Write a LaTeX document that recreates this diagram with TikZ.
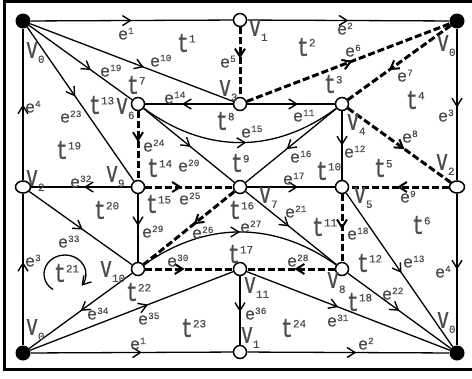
\documentclass[tikz,border=0pt]{standalone}
\usepackage{graphicx}
\usepackage{fontspec}
\setmainfont{Liberation Mono}
\newfontfamily\labfont[FakeBold=0.6]{Liberation Mono}
\usetikzlibrary{arrows.meta,decorations.markings,shapes.geometric}
\definecolor{labc}{gray}{0.3}
\newcommand\Le[1]{{\labfont\fontsize{17}{17}\selectfont e\rlap{\smash{\raisebox{5.5bp}{\fontsize{9.5}{9.5}\selectfont #1}}}}}
\newcommand\Lt[1]{{\labfont\fontsize{20}{20}\selectfont\scalebox{1}[1.35]{t}\rlap{\smash{\raisebox{9.5bp}{\fontsize{11}{11}\selectfont #1}}}}}
\newcommand\Lv[1]{{\labfont\fontsize{20}{20}\selectfont\scalebox{1}[1.5]{v}\rlap{\smash{\raisebox{-5bp}{\fontsize{11}{11}\selectfont #1}}}}}
\begin{document}
\begin{tikzpicture}[x=1bp,y=-1bp,
  vopen/.style={circle, draw, fill=white, line width=1.5bp, minimum size=13bp, inner sep=0pt},
  vdiam/.style={ellipse, draw, fill=white, line width=1.5bp, minimum width=15bp, minimum height=12bp, inner sep=0pt},
  vfull/.style={circle, fill=black, minimum size=15bp, inner sep=0pt},
  sol/.style={line width=1.3bp},
  dsh/.style={line width=3bp, dash pattern=on 7bp off 3bp},
  mid/.style={postaction={decorate,decoration={markings,mark=at position #1 with {\arrow{Straight Barb[length=8bp,width=10bp,line width=1.4bp]}}}}},
  midd/.style={postaction={decorate,decoration={markings,mark=at position #1 with {\arrow{Straight Barb[length=8bp,width=10bp,line width=2bp]}}}}},
  lab/.style={inner sep=0pt, text=labc}
]
\useasboundingbox (0,0) rectangle (472,378);
% frame
\draw[line width=3bp] (472,1.2) -- (4.6,1.2) -- (4.6,369.3) -- (472,369.3);
% vertices
\node[vfull] (v0a) at (23,21) {};
\node[vopen] (v1a) at (240,20) {};
\node[vfull] (v0b) at (457,21) {};
\node[vopen] (v6) at (138,104) {};
\node[vopen] (v3) at (240,104) {};
\node[vopen] (v4) at (342,104) {};
\node[vdiam] (v2a) at (23,187) {};
\node[vopen] (v9) at (138,187) {};
\node[vopen] (v7) at (240,187) {};
\node[vopen] (v5) at (342,187) {};
\node[vdiam] (v2b) at (457,187) {};
\node[vopen] (v10) at (138,269) {};
\node[vopen] (v11) at (240,269) {};
\node[vopen] (v8) at (342,269) {};
\node[vfull] (v0c) at (23,353) {};
\node[vopen] (v1b) at (240,352) {};
\node[vfull] (v0d) at (457,353) {};
% outer edges
\draw[sol,mid=.5] (v0a) -- (v1a);
\draw[sol,mid=.5] (v1a) -- (v0b);
\draw[sol,mid=.52] (v0b) -- (v2b);
\draw[sol,mid=.5] (v2b) -- (v0d);
\draw[sol,mid=.55] (v0c) -- (v2a);
\draw[sol,mid=.5] (v2a) -- (v0a);
\draw[sol,mid=.55] (v0c) -- (v1b);
\draw[sol,mid=.54] (v1b) -- (v0d);
% dashed edges
\draw[dsh,midd=.45] (v1a) -- (v3);
\draw[dsh,midd=.52] (v3) -- (v0b);
\draw[dsh,midd=.6] (v0b) -- (v4);
\draw[dsh,midd=.55] (v4) -- (v2b);
\draw[dsh,midd=.52] (v2b) -- (v5);
\draw[dsh,midd=.45] (v6) -- (v9);
\draw[dsh,midd=.42] (v9) -- (v7);
\draw[dsh,midd=.45] (v7) -- (v10);
\draw[dsh,midd=.52] (v5) -- (v8);
\draw[dsh,midd=.45] (v10) -- (v11);
\draw[dsh,midd=.46] (v8) -- (v11);
% solid inner edges
\draw[sol,mid=.56] (v0a) -- (v3);
\draw[sol,mid=.6] (v0a) -- (v6);
\draw[sol,mid=.45] (v0a) -- (v9);
\draw[sol,mid=.58] (v3) -- (v6);
\draw[sol,mid=.58] (v3) -- (v4);
\draw[sol,mid=.52] (v6) -- (v7);
\draw[sol,mid=.53] (v6) .. controls (206,154) and (275,154) .. (v4);
\draw[sol,mid=.55] (v4) -- (v7);
\draw[sol,mid=.5] (v4) -- (v5);
\draw[sol,mid=.47] (v9) -- (v2a);
\draw[sol,mid=.58] (v7) -- (v5);
\draw[sol,mid=.47] (v9) -- (v10);
\draw[sol,mid=.48] (v7) -- (v8);
\draw[sol,mid=.5] (v10) .. controls (206,221) and (274,221) .. (v8);
\draw[sol,mid=.52] (v2a) -- (v10);
\draw[sol,mid=.52] (v5) -- (v0d);
\draw[sol,mid=.5] (v8) -- (v0d);
\draw[sol,mid=.45] (v11) -- (v0d);
\draw[sol,mid=.52] (v11) -- (v1b);
\draw[sol,mid=.5] (v10) -- (v0c);
\draw[sol,mid=.58] (v0c) -- (v11);
% rotation arrow of t21
\draw[sol,-{Straight Barb[length=8bp,width=10bp,line width=1.4bp]}] (65,274) ++(125:21 and 19) arc[start angle=125, end angle=398, x radius=21, y radius=19];
% edge labels
\node[lab] at (123,35) {\Le{1}};
\node[lab] at (342,30) {\Le{2}};
\node[lab] at (443,117) {\Le{3}};
\node[lab] at (440,273) {\Le{4}};
\node[lab] at (30,262) {\Le{3}};
\node[lab] at (30,108) {\Le{4}};
\node[lab] at (135,345) {\Le{1}};
\node[lab] at (363,345) {\Le{2}};
\node[lab] at (225,63) {\Le{5}};
\node[lab] at (350,52) {\Le{6}};
\node[lab] at (402,77) {\Le{7}};
\node[lab] at (407,138) {\Le{8}};
\node[lab] at (405,198) {\Le{9}};
\node[lab] at (155,62) {\Le{10}};
\node[lab] at (298,117) {\Le{11}};
\node[lab] at (349,153) {\Le{12}};
\node[lab] at (408,263) {\Le{13}};
\node[lab] at (169,99) {\Le{14}};
\node[lab] at (246,133) {\Le{15}};
\node[lab] at (295,158) {\Le{16}};
\node[lab] at (288,180) {\Le{17}};
\node[lab] at (352,235) {\Le{18}};
\node[lab] at (105,72) {\Le{19}};
\node[lab] at (183,167) {\Le{20}};
\node[lab] at (290,213) {\Le{21}};
\node[lab] at (387,295) {\Le{22}};
\node[lab] at (65,118) {\Le{23}};
\node[lab] at (148,147) {\Le{24}};
\node[lab] at (184,200) {\Le{25}};
\node[lab] at (197,234) {\Le{26}};
\node[lab] at (245,228) {\Le{27}};
\node[lab] at (292,262) {\Le{28}};
\node[lab] at (147,233) {\Le{29}};
\node[lab] at (172,262) {\Le{30}};
\node[lab] at (332,322) {\Le{31}};
\node[lab] at (75,183) {\Le{32}};
\node[lab] at (63,243) {\Le{33}};
\node[lab] at (92,315) {\Le{34}};
\node[lab] at (143,320) {\Le{35}};
\node[lab] at (250,315) {\Le{36}};
% face labels
\node[lab] at (183,43) {\Lt{1}};
\node[lab] at (303,47) {\Lt{2}};
\node[lab] at (330,84) {\Lt{3}};
\node[lab] at (412,100) {\Lt{4}};
\node[lab] at (380,168) {\Lt{5}};
\node[lab] at (418,225) {\Lt{6}};
\node[lab] at (133,85) {\Lt{7}};
\node[lab] at (222,121) {\Lt{8}};
\node[lab] at (237,163) {\Lt{9}};
\node[lab] at (322,171) {\Lt{10}};
\node[lab] at (318,227) {\Lt{11}};
\node[lab] at (363,263) {\Lt{12}};
\node[lab] at (95,105) {\Lt{13}};
\node[lab] at (153,168) {\Lt{14}};
\node[lab] at (152,204) {\Lt{15}};
\node[lab] at (235,210) {\Lt{16}};
\node[lab] at (234,254) {\Lt{17}};
\node[lab] at (353,302) {\Lt{18}};
\node[lab] at (62,150) {\Lt{19}};
\node[lab] at (100,210) {\Lt{20}};
\node[lab] at (60,273) {\Lt{21}};
\node[lab] at (132,292) {\Lt{22}};
\node[lab] at (187,328) {\Lt{23}};
\node[lab] at (287,328) {\Lt{24}};
% vertex labels
\node[lab] at (32,50) {\Lv{0}};
\node[lab] at (255,28) {\Lv{1}};
\node[lab] at (443,43) {\Lv{0}};
\node[lab] at (225,88) {\Lv{3}};
\node[lab] at (122,106) {\Lv{6}};
\node[lab] at (353,122) {\Lv{4}};
\node[lab] at (32,178) {\Lv{2}};
\node[lab] at (112,174) {\Lv{9}};
\node[lab] at (265,195) {\Lv{7}};
\node[lab] at (360,195) {\Lv{5}};
\node[lab] at (442,162) {\Lv{2}};
\node[lab] at (106,269) {\Lv{10}};
\node[lab] at (250,285) {\Lv{11}};
\node[lab] at (333,280) {\Lv{8}};
\node[lab] at (32,327) {\Lv{0}};
\node[lab] at (247,335) {\Lv{1}};
\node[lab] at (443,320) {\Lv{0}};
\end{tikzpicture}
\end{document}
